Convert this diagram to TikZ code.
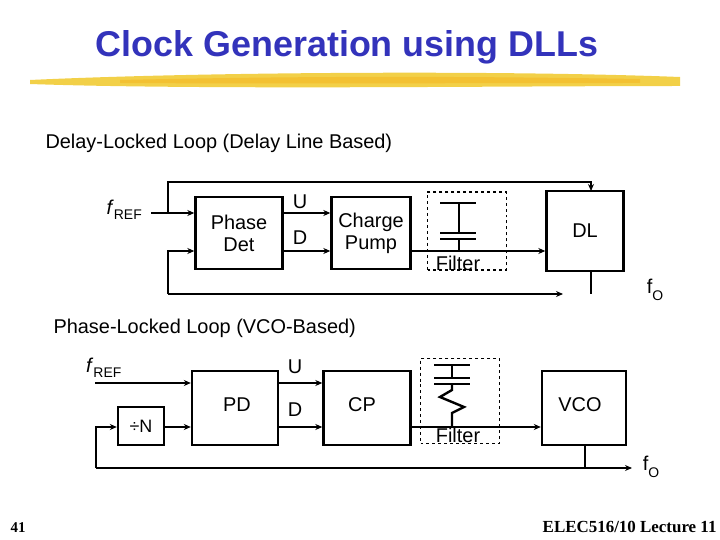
\documentclass[tikz,border=0pt]{standalone}
\usepackage{fontspec}
\setmainfont{Liberation Sans}
\newfontfamily\tms{Liberation Serif}
\usetikzlibrary{arrows.meta}
\definecolor{ttl}{RGB}{51,51,187}
\definecolor{hl}{RGB}{240,200,40}
\begin{document}
\begin{tikzpicture}[x=1bp,y=-1bp,
 blk/.style={draw,line width=2.4pt,inner sep=0pt,font=\fontsize{20}{22}\selectfont,align=center},
 wire/.style={line width=2.4pt},
 arr/.style={wire,-{Stealth[length=7pt,width=6pt]}},
 lbl/.style={font=\fontsize{20}{22}\selectfont,inner sep=0pt},
 flt/.style={draw,dashed,line width=1.2pt}]
\useasboundingbox (0,0) rectangle (720,540);
\node[text=ttl,font=\bfseries\fontsize{36}{38}\selectfont] (title) at (347,47) {Clock Generation using DLLs};
\fill[hl,opacity=0.85] (30,80) .. controls (200,72) and (500,70) .. (680,77) -- (680,86) .. controls (500,86) and (200,90) .. (30,84) -- cycle;
\fill[hl!70!orange,opacity=0.5] (120,80) .. controls (300,76) and (450,76) .. (640,79) -- (640,83) .. controls (450,83) and (300,84) .. (120,83) -- cycle;
\node[anchor=west,font=\fontsize{20}{22}\selectfont] (s1) at (42,143) {Delay-Locked Loop (Delay Line Based)};
% DLL
\node[blk,minimum width=87bp,minimum height=72bp] (pd1) at (239,233) {Phase\\Det};
\node[blk,minimum width=79bp,minimum height=72bp] (cp1) at (371,233) {Charge\\Pump};
\node[blk,minimum width=77bp,minimum height=80bp] (dl) at (585,231) {DL};
\node[flt,minimum width=79bp,minimum height=78bp] (f1) at (467,231) {};
\node[lbl] (f1t) at (458,263) {Filter};
\node[lbl,anchor=east] (fr1) at (142,210) {\textit{f}\raisebox{-0.5ex}{\fontsize{14}{15}\selectfont REF}};
\node[lbl] (u1) at (300,202) {U};
\node[lbl] (d1) at (300,238) {D};
\node[lbl] (fo1) at (655,290) {f\raisebox{-0.6ex}{\fontsize{14}{15}\selectfont O}};
\coordinate (a1) at (151,213);
\coordinate (b1) at (168,213);
\draw[arr] (a1) -- (b1) -- (pd1.west|-b1);
\draw[arr] (b1) -- (168,182) -- (591,182) -- (591,191);
\draw[arr] (pd1.east|-b1) -- (cp1.west|-b1);
\draw[arr] (pd1.east|-0,251) -- (cp1.west|-0,251);
\draw[arr] (cp1.east|-0,251) -- (dl.west|-0,251);
\coordinate (o1) at (591,294);
\draw[wire] (dl.south-|o1) -- (o1);
\draw[arr] (168,294) -- (563,294);
\draw[arr] (168,294) -- (168,251) -- (pd1.west|-0,251);
% capacitor
\draw[wire] (440,203) -- (476,203);
\draw[wire] (440,233) -- (476,233);
\draw[wire] (440,239) -- (476,239);
\draw[wire] (459,203) -- (459,233);
\draw[wire] (459,239) -- (459,251);
% PLL
\node[anchor=west,font=\fontsize{20}{22}\selectfont] (s2) at (50,328) {Phase-Locked Loop (VCO-Based)};
\node[blk,minimum width=86bp,minimum height=74bp] (pd2) at (235,408) {};
\node[lbl] at (237,405) {PD};
\node[blk,minimum width=87bp,minimum height=74bp] (cp2) at (367,408) {};
\node[lbl] at (362,405) {CP};
\node[blk,minimum width=84bp,minimum height=74bp] (vco) at (584,408) {};
\node[lbl] at (580,405) {VCO};
\node[blk,minimum width=46bp,minimum height=38bp] (dn) at (141,426) {\fontsize{18}{20}\selectfont ÷N};
\node[flt,minimum width=79bp,minimum height=85bp] (f2) at (460,401) {};
\node[lbl] (f2t) at (458,435) {Filter};
\node[lbl,anchor=west] (fr2) at (86,368) {\textit{f}\raisebox{-0.5ex}{\fontsize{14}{15}\selectfont REF}};
\node[lbl] (u2) at (295,367) {U};
\node[lbl] (d2) at (295,410) {D};
\node[lbl] (fo2) at (651,467) {f\raisebox{-0.6ex}{\fontsize{14}{15}\selectfont O}};
\draw[arr] (95,383) -- (pd2.west|-0,383);
\draw[arr] (pd2.east|-0,383) -- (cp2.west|-0,383);
\draw[arr] (pd2.east|-0,427) -- (cp2.west|-0,427);
\draw[arr] (cp2.east|-0,427) -- (vco.west|-0,427);
\draw[arr] (dn.east|-0,427) -- (pd2.west|-0,427);
\coordinate (o2) at (585,468);
\draw[wire] (vco.south-|o2) -- (o2);
\draw[arr] (96,468) -- (632,468);
\draw[arr] (96,468) -- (96,427) -- (dn.west|-0,427);
\draw[wire] (434,365) -- (470,365);
\draw[wire] (434,378) -- (470,378);
\draw[wire] (434,384) -- (470,384);
\draw[wire] (452,365) -- (452,378);
\draw[wire,line join=miter] (452,384) -- (452,390) -- (440,397) -- (464,407) -- (452,413) -- (452,427);
% footer
\node[font=\tms\bfseries\fontsize{15}{16}\selectfont] (pg) at (18,528) {41};
\node[font=\tms\bfseries\fontsize{17}{18}\selectfont,anchor=east] (lec) at (720,527) {ELEC516/10 Lecture 11};
\end{tikzpicture}
\end{document}
